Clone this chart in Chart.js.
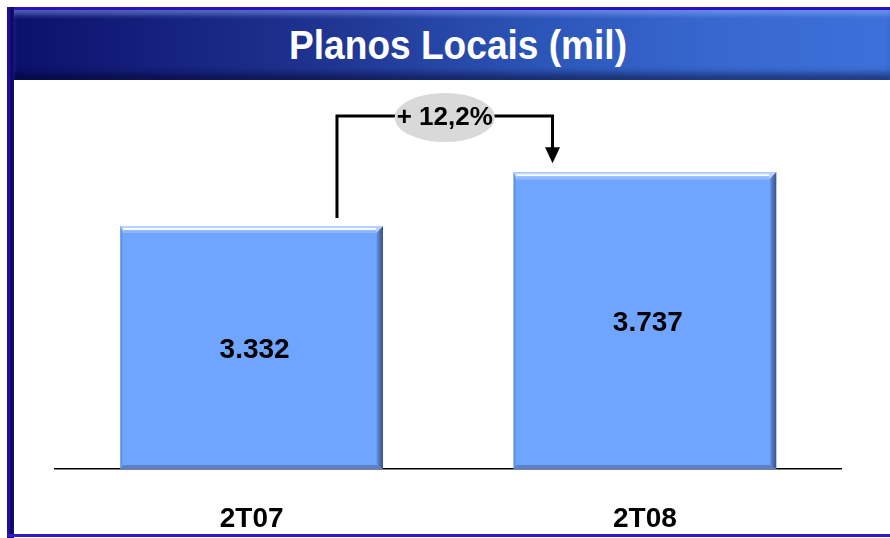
<!DOCTYPE html>
<html>
<head>
<meta charset="utf-8">
<script src="https://cdn.jsdelivr.net/npm/chart.js@4.4.1/dist/chart.umd.min.js"></script>
<style>
  html, body { margin: 0; padding: 0; background: #ffffff; }
  #wrap { position: relative; width: 890px; height: 538px; overflow: hidden; background: #fff; }
  #topline { position: absolute; left: 7px; top: 7px; width: 883px; height: 3px; background: #2a12c0; }
  #leftline { position: absolute; left: 7px; top: 7px; width: 7px; height: 531px;
    background: linear-gradient(to right, #1e0ea0 0px, #1e0ea0 3px, #0c0650 4px, #14107a 7px); }
  #bottomline { position: absolute; left: 7px; top: 534px; width: 883px; height: 3px; background: #3419c6; }
  #titlebar { position: absolute; left: 10px; top: 10px; width: 880px; height: 70px;
    background: linear-gradient(to right, #0a0f6c 0%, #121c78 12%, #1f3390 35%, #2c55b8 60%, #3768cf 80%, #3d70da 100%);
    box-shadow: inset 0 8px 5px -3px rgba(150,180,255,0.45), inset 0 -10px 6px -3px rgba(0,0,30,0.45), inset 6px 0 5px -3px rgba(120,140,230,0.35);
    color: #fff; font-family: "Liberation Sans", Arial, sans-serif; font-weight: bold; font-size: 36px;
    line-height: 70px; text-align: center; padding-left: 16px; box-sizing: border-box; }
  #titlebar span { display: inline-block; transform: scale(1.03, 1.15); }
  #c { position: absolute; left: 0; top: 0; }
</style>
</head>
<body>
<div id="wrap">
  <div id="titlebar"><span>Planos Locais (mil)</span></div>
  <div id="topline"></div>
  <div id="leftline"></div>
  <div id="bottomline"></div>
  <canvas id="c" width="890" height="538"></canvas>
</div>
<script>
const categories = ["2T07", "2T08"];
const values = [3332, 3737];
const growthLabel = "+ 12,2%";
const yMin = 1500;
const yMax = 4357;

function fmt(v) {
  return String(v).replace(/\B(?=(\d{3})+(?!\d))/g, ".");
}

const FONT = '"Liberation Sans", Arial, sans-serif';

const decor = {
  id: 'decor',
  afterDatasetsDraw(chart) {
    const ctx = chart.ctx;
    const meta = chart.getDatasetMeta(0);
    const area = chart.chartArea;
    ctx.save();
    meta.data.forEach((bar, i) => {
      const p = bar.getProps(['x', 'y', 'base', 'width'], true);
      const l = p.x - p.width / 2, r = p.x + p.width / 2, t = p.y, b = Math.min(p.base, area.bottom);
      // right dark edge
      let g = ctx.createLinearGradient(r - 7, 0, r, 0);
      g.addColorStop(0, 'rgba(80,110,175,0)');
      g.addColorStop(0.4, 'rgba(80,110,175,0.8)');
      g.addColorStop(1, 'rgba(55,80,140,1)');
      ctx.fillStyle = g;
      ctx.beginPath();
      ctx.moveTo(r - 7, t + 7); ctx.lineTo(r, t); ctx.lineTo(r, b); ctx.lineTo(r - 7, b - 4); ctx.closePath();
      ctx.fill();
      // bottom dark edge
      ctx.fillStyle = 'rgba(85,120,185,0.8)';
      ctx.beginPath();
      ctx.moveTo(l, b); ctx.lineTo(r, b); ctx.lineTo(r - 7, b - 4); ctx.lineTo(l + 3, b - 4); ctx.closePath();
      ctx.fill();
      // left slight edge
      ctx.fillStyle = 'rgba(90,130,210,0.6)';
      ctx.fillRect(l, t, 2, b - t);
      // top highlight
      ctx.fillStyle = '#b8d2ff';
      ctx.beginPath();
      ctx.moveTo(l, t); ctx.lineTo(r, t); ctx.lineTo(r - 7, t + 7); ctx.lineTo(l + 3, t + 7); ctx.closePath();
      ctx.fill();
      ctx.fillStyle = '#ffffff';
      ctx.fillRect(l + 3, t + 2, p.width - 10, 2);
      ctx.fillStyle = '#8fb8ff';
      ctx.fillRect(l + 3, t + 4, p.width - 10, 3);
      // value label
      ctx.fillStyle = '#000';
      ctx.font = 'bold 28px ' + FONT;
      ctx.textAlign = 'center';
      ctx.textBaseline = 'middle';
      ctx.fillText(fmt(values[i]), p.x + 3, (t + b) / 2 + 3);
    });
    // connector
    const b1 = meta.data[0].getProps(['x', 'y', 'width'], true);
    const b2 = meta.data[1].getProps(['x', 'y', 'width'], true);
    const xL = b1.x + b1.width / 2 - 46;
    const xR = b2.x - b2.width / 2 + 39;
    const yH = 116;
    ctx.strokeStyle = '#000';
    ctx.lineWidth = 3;
    ctx.lineJoin = 'miter';
    ctx.beginPath();
    ctx.moveTo(xL, b1.y - 8);
    ctx.lineTo(xL, yH);
    ctx.lineTo(xR, yH);
    ctx.lineTo(xR, b2.y - 24);
    ctx.stroke();
    ctx.fillStyle = '#000';
    ctx.beginPath();
    ctx.moveTo(xR - 7.5, b2.y - 25);
    ctx.lineTo(xR + 7.5, b2.y - 25);
    ctx.lineTo(xR, b2.y - 9);
    ctx.closePath();
    ctx.fill();
    // ellipse
    const cx = (xL + xR) / 2;
    ctx.fillStyle = '#d9d9d9';
    ctx.beginPath();
    ctx.ellipse(cx, yH + 1.5, 50, 24.5, 0, 0, Math.PI * 2);
    ctx.fill();
    ctx.fillStyle = '#000';
    ctx.font = 'bold 26px ' + FONT;
    ctx.textAlign = 'center';
    ctx.textBaseline = 'middle';
    ctx.fillText(growthLabel, cx, yH + 2);
    ctx.restore();
  }
};

new Chart(document.getElementById('c'), {
  type: 'bar',
  data: {
    labels: categories,
    datasets: [{
      data: values,
      backgroundColor: '#6fa4ff',
      borderWidth: 0,
      categoryPercentage: 1,
      barPercentage: 0.668
    }]
  },
  options: {
    responsive: false,
    animation: false,
    events: [],
    layout: { padding: { left: 55, right: 48.5, top: 90, bottom: 0 } },
    plugins: { legend: { display: false }, tooltip: { enabled: false }, title: { display: false } },
    scales: {
      x: {
        display: true,
        grid: { display: false, drawTicks: false },
        border: { display: true, color: '#000', width: 1.5 },
        ticks: { color: '#000', font: { family: FONT, weight: 'bold', size: 28 }, padding: 33 },
        afterFit: (s) => { s.height = 69; }
      },
      y: { display: false, min: yMin, max: yMax }
    }
  },
  plugins: [decor]
});
</script>
</body>
</html>
